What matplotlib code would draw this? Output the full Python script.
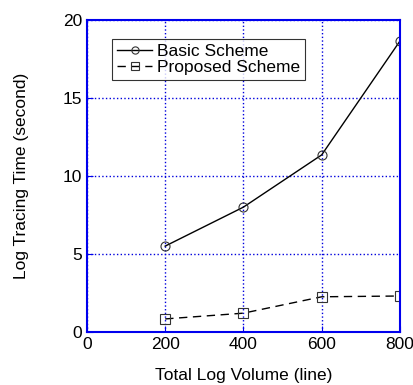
import matplotlib
matplotlib.use("Agg")
import matplotlib.pyplot as plt

volume = [200, 400, 600, 800]
basic = [5.5, 8.0, 11.35, 18.65]
proposed = [0.83, 1.2, 2.25, 2.3]
xticks = [0, 200, 400, 600, 800]
yticks = [0, 5, 10, 15, 20]

plt.rcParams['font.family'] = ['Liberation Sans', 'DejaVu Sans']

fig = plt.figure(figsize=(4.14, 3.85), dpi=100)
ax = fig.add_axes([0.210, 0.138, 0.756, 0.810])

ax.plot(volume, basic, '-', color='black', lw=1.0, marker='o', ms=6.5,
        mfc='none', mec='#333333', mew=0.8, label='Basic Scheme')
ax.plot(volume, proposed, '--', color='black', lw=1.0, marker='s', ms=6.5,
        mfc='none', mec='#333333', mew=0.8, dashes=(6, 4), label='Proposed Scheme')

ax.set_xlim(0, 800)
ax.set_ylim(0, 20)
ax.set_xticks(xticks)
ax.set_yticks(yticks)
ax.grid(True, color='#0000dd', linestyle=':', linewidth=1.0)
for s in ax.spines.values():
    s.set_color('#0000ee')
    s.set_linewidth(1.5)
ax.tick_params(direction='in', colors='#0000ee', labelcolor='black', labelsize=12.5, length=4)

ax.set_xlabel('Total Log Volume (line)', fontsize=12.5, labelpad=12)
ax.set_ylabel('Log Tracing Time (second)', fontsize=12.5, labelpad=24)

leg = ax.legend(loc='upper left', bbox_to_anchor=(0.08, 0.94), fontsize=12.5,
                frameon=True, fancybox=False, edgecolor='black', handlelength=2.0,
                handletextpad=0.3, borderpad=0.3, labelspacing=0.05, borderaxespad=0,
                markerscale=0.8)
leg.get_frame().set_linewidth(0.8)

fig.savefig('out.png', dpi=100)
